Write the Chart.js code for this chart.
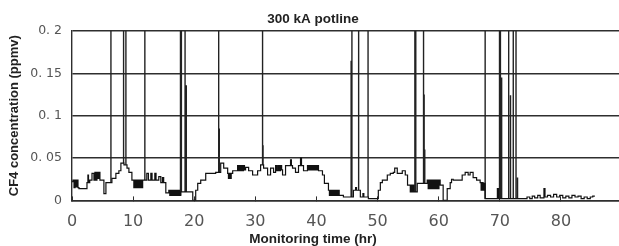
<!DOCTYPE html>
<html>
<head>
<meta charset="utf-8">
<script src="https://cdn.jsdelivr.net/npm/chart.js@4"></script>
<style>
  html, body { margin: 0; padding: 0; background: #fff; }
</style>
</head>
<body>
<canvas id="cf4Chart" width="619" height="246"></canvas>
<script>
// step trace: value holds from each time until the next one
const timeHr = [
    0, 0.16, 0.33, 0.5, 0.66, 0.82, 0.98, 1.14, 2.45, 2.6, 2.7, 2.9, 3.27,
    3.59, 3.75, 3.9, 4.08, 4.25, 4.4, 4.57, 5.22, 5.55, 6.53,
    7.18, 7.67, 8.0, 8.5, 9.0, 9.31, 9.8,
    10.12, 10.28, 10.44, 10.6, 10.76, 10.92, 11.08, 11.24, 11.4, 11.56, 11.76,
    12.24, 12.5, 12.9, 13.1, 13.55, 13.75, 14.2, 14.53, 14.8, 15.0, 15.35,
    15.84, 16.0, 16.16, 16.32, 16.48, 16.64, 16.8, 16.96, 17.12, 17.28, 17.44, 17.6, 17.8,
    19.76, 20.24, 20.57, 21.06, 21.88, 23.51, 24.33, 24.82,
    25.47, 25.6, 25.75, 25.9, 26.05, 26.29, 27.1, 27.26, 27.42, 27.58, 27.74, 27.9, 28.06, 28.22, 28.4,
    28.9, 29.55, 30.37, 30.86, 31.35, 32.0, 32.49, 32.98, 33.31, 33.5, 33.7, 33.9, 34.1, 34.3, 34.45,
    34.94, 35.76, 35.9, 36.08, 36.57, 37.06, 37.39, 37.55, 37.88,
    38.53, 38.7, 38.86, 39.02, 39.18, 39.34, 39.5, 39.66, 39.82, 40.0, 40.16, 40.33,
    40.98, 41.3, 41.96, 42.12, 42.28, 42.44, 42.6, 42.76, 42.92, 43.08, 43.24, 43.4, 43.56, 43.72, 43.92, 44.41,
    46.04, 46.4, 46.55, 47.18, 47.6, 47.75, 48.49, 50.12, 50.45, 50.78,
    51.59, 52.08, 52.57, 52.8, 53.22, 54.04, 54.53, 54.9, 55.35, 55.5, 55.66, 55.82, 55.98, 56.49,
    58.12, 58.28, 58.44, 58.6, 58.76, 58.92, 59.08, 59.24, 59.4, 59.56, 59.72, 59.88, 60.04, 60.24,
    60.73, 61.39, 61.88, 62.1, 62.37, 63.84, 64.33, 64.82, 65.14, 65.63, 66.2, 66.78, 66.94, 67.1, 67.26, 67.42, 67.59,
    69.6, 69.8, 74.45, 74.9, 75.3, 75.7, 76.2, 76.6, 77.22, 77.39,
    77.8, 78.3, 78.8, 79.3, 79.8, 80.3, 80.8, 81.3, 81.8, 82.3, 82.8, 83.3, 83.8, 84.3, 84.8, 85.2, 85.55
];
const cf4 = [
    0.022, 0.024, 0.015, 0.024, 0.016, 0.024, 0.015, 0.014, 0.021, 0.03, 0.021, 0.024, 0.032,
    0.024, 0.033, 0.024, 0.033, 0.026, 0.033, 0.024, 0.008, 0.021, 0.026,
    0.032, 0.035, 0.044, 0.042, 0.038, 0.033, 0.024,
    0.015, 0.024, 0.015, 0.024, 0.015, 0.024, 0.015, 0.024, 0.015, 0.024, 0.024,
    0.032, 0.024, 0.032, 0.024, 0.032, 0.024, 0.028, 0.021, 0.027, 0.021, 0.009,
    0.012, 0.006, 0.012, 0.006, 0.012, 0.006, 0.012, 0.006, 0.012, 0.006, 0.012, 0.006, 0.01,
    0.0, 0.012, 0.02, 0.024, 0.032, 0.033, 0.044, 0.038,
    0.032, 0.026, 0.032, 0.026, 0.032, 0.035, 0.041, 0.035, 0.041, 0.035, 0.041, 0.035, 0.041, 0.036, 0.039,
    0.035, 0.03, 0.035, 0.042, 0.038, 0.03, 0.038, 0.033, 0.041, 0.035, 0.041, 0.035, 0.041, 0.036, 0.03,
    0.041, 0.048, 0.041, 0.038, 0.033, 0.041, 0.05, 0.041, 0.035,
    0.041, 0.036, 0.041, 0.036, 0.041, 0.036, 0.041, 0.036, 0.041, 0.036, 0.041, 0.035,
    0.03, 0.02, 0.012, 0.006, 0.012, 0.006, 0.012, 0.006, 0.012, 0.006, 0.012, 0.006, 0.012, 0.006, 0.006, 0.004,
    0.012, 0.015, 0.012, 0.004, 0.008, 0.004, 0.002, 0.012, 0.021, 0.024,
    0.03, 0.032, 0.033, 0.038, 0.032, 0.035, 0.03, 0.018, 0.01, 0.018, 0.01, 0.018, 0.01, 0.02,
    0.024, 0.014, 0.024, 0.014, 0.024, 0.014, 0.024, 0.014, 0.024, 0.014, 0.024, 0.014, 0.024, 0.018,
    0.0, 0.014, 0.021, 0.025, 0.024, 0.03, 0.033, 0.03, 0.033, 0.027, 0.024, 0.021, 0.012, 0.021, 0.012, 0.02, 0.002,
    0.014, 0.002, 0.004, 0.002, 0.005, 0.003, 0.006, 0.003, 0.014, 0.004,
    0.006, 0.004, 0.007, 0.004, 0.006, 0.003, 0.005, 0.003, 0.006, 0.004, 0.005, 0.002, 0.004, 0.002, 0.004, 0.005, 0.005
];

// anode-effect spikes (0.25 = off the top of the scale)
const spikeHr = [6.37, 8.44, 8.82, 11.92, 17.75, 17.9, 18.5, 18.7, 24.0, 24.1, 31.18, 31.26,
    45.67, 45.8, 46.9, 48.44, 56.1, 56.25, 57.52, 57.62, 57.72, 67.6, 69.95, 70.1, 70.3,
    71.45, 71.75, 72.2, 72.65, 72.9];
const spikePeak = [0.25, 0.25, 0.25, 0.25, 0.25, 0.25, 0.25, 0.136, 0.25, 0.085, 0.25, 0.065,
    0.165, 0.25, 0.25, 0.25, 0.25, 0.25, 0.25, 0.125, 0.06, 0.25, 0.25, 0.25, 0.145,
    0.25, 0.124, 0.25, 0.25, 0.027];

const yTickLabels = ['0', '0. 05', '0. 1', '0. 15', '0. 2'];
const xTickStep = 10;

function levelAt(t) {
    let v = cf4[0];
    for (let i = 0; i < timeHr.length && timeHr[i] <= t; i++) v = cf4[i];
    return v;
}

const trace = timeHr.map((t, i) => ({ x: t, y: cf4[i] }));
const spikes = spikeHr.flatMap((t, i) => [
    { x: t, y: levelAt(t) },
    { x: t, y: spikePeak[i] },
    { x: t, y: null }
]);

const axisColor = '#2e2e2e';

new Chart(document.getElementById('cf4Chart').getContext('2d'), {
    type: 'line',
    data: {
        datasets: [
            { data: trace, stepped: true, borderColor: '#111', borderWidth: 1.2, pointRadius: 0 },
            { data: spikes, borderColor: '#222', borderWidth: 1.4, pointRadius: 0, spanGaps: false }
        ]
    },
    options: {
        responsive: false,
        animation: false,
        events: [],
        layout: { padding: { left: 7, right: 0, top: 0, bottom: 0 } },
        plugins: {
            legend: { display: false },
            tooltip: { enabled: false },
            title: {
                display: true,
                text: '300 kA potline',
                color: '#222',
                font: { family: 'Liberation Sans', size: 13.5, weight: 'bold', lineHeight: 1 },
                padding: { top: 13, bottom: 4.5 }
            },
            subtitle: {
                display: true,
                position: 'bottom',
                text: 'Monitoring time (hr)',
                color: '#222',
                font: { family: 'Liberation Sans', size: 13.5, weight: 'bold', lineHeight: 1 },
                padding: { top: 3.5, bottom: 0 }
            }
        },
        scales: {
            x: {
                type: 'linear',
                min: 0,
                max: 89.5,
                afterBuildTicks: (scale) => {
                    scale.ticks = scale.ticks.filter(t => t.value % xTickStep === 0);
                },
                afterFit: (scale) => { scale.height = 28.6; },
                ticks: {
                    stepSize: xTickStep,
                    padding: 16,
                    color: '#555',
                    maxRotation: 0,
                    font: { family: 'DejaVu Sans', size: 16 }
                },
                grid: { drawOnChartArea: false, drawTicks: true, tickLength: -4, color: axisColor },
                border: { color: axisColor, width: 1.4 }
            },
            y: {
                min: 0,
                max: 0.2,
                afterFit: (scale) => { scale.width = 65; },
                ticks: {
                    stepSize: 0.05,
                    padding: 10,
                    color: '#555',
                    font: { family: 'DejaVu Sans', size: 12.5 },
                    callback: (v) => yTickLabels[Math.round(v / 0.05)]
                },
                grid: { color: axisColor, lineWidth: 1.4, drawTicks: false },
                border: { color: axisColor, width: 1.4 },
                title: {
                    display: true,
                    text: 'CF4 concentration (ppmv)',
                    color: '#222',
                    font: { family: 'Liberation Sans', size: 13, weight: 'bold', lineHeight: 1.2 },
                    padding: { top: 0, bottom: 0 }
                }
            }
        }
    }
});
</script>
</body>
</html>
